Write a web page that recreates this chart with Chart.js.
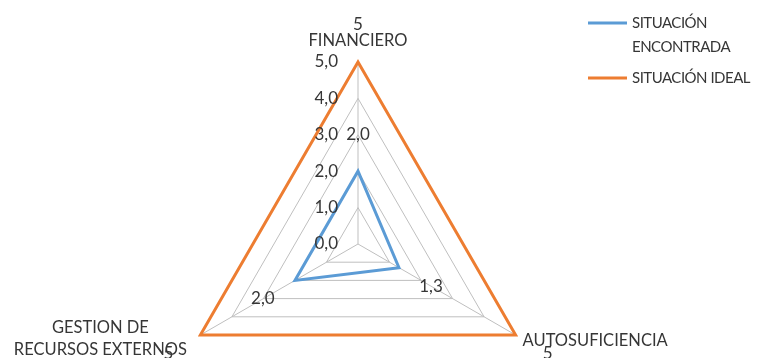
<!DOCTYPE html>
<html>
<head>
<meta charset="utf-8">
<script src="https://cdn.jsdelivr.net/npm/chart.js@4/dist/chart.umd.min.js"></script>
<style>
  html, body { margin:0; padding:0; background:#fff; overflow:hidden; }
  canvas { display:block; }
</style>
</head>
<body>
<canvas id="radarChart" width="775" height="358"></canvas>
<script>
// ===== Data =====
const axisLabels = [["FINANCIERO"], ["AUTOSUFICIENCIA"], ["GESTION DE", "RECURSOS EXTERNOS"]];
const seriesNames = [["SITUACIÓN", "ENCONTRADA"], ["SITUACIÓN IDEAL"]];
const encontrada = [2.0, 1.3, 2.0];
const ideal = [5, 5, 5];
const tickValues = [0, 1, 2, 3, 4, 5];

// ===== Styles =====
const FONT = "Lato, 'Open Sans', sans-serif";
const TEXT = "#363636";
const BLUE = "#5B9BD5";
const ORANGE = "#ED7D31";

const fmtOne = v => v.toFixed(1).replace(".", ",");

// ===== Text plugin: ticks, data labels, axis names, legend =====
const textPlugin = {
  id: "textPlugin",
  afterDatasetsDraw(chart) {
    const ctx = chart.ctx;
    const r = chart.scales.r;
    ctx.save();
    ctx.fillStyle = TEXT;

    // tick labels
    ctx.font = "17px " + FONT;
    ctx.textAlign = "right";
    ctx.textBaseline = "middle";
    tickValues.forEach(v => {
      const y = r.yCenter - r.getDistanceFromCenterForValue(v);
      ctx.fillText(fmtOne(v), r.xCenter - 20, y);
    });

    // data labels
    ctx.textAlign = "center";
    chart.data.datasets.forEach((ds, di) => {
      ds.data.forEach((v, i) => {
        const p = r.getPointPosition(i, r.getDistanceFromCenterForValue(v) + 37);
        ctx.fillText(di === 0 ? fmtOne(v) : String(v), p.x, p.y);
      });
    });

    // axis names
    ctx.font = "16.5px " + FONT;
    chart.data.labels.forEach((lab, i) => {
      const p = r.getPointPosition(i, r.getDistanceFromCenterForValue(r.max));
      if (i === 0) {
        ctx.textAlign = "center";
        ctx.fillText(lab[0], p.x, p.y - 21);
      } else if (i === 1) {
        ctx.textAlign = "left";
        ctx.fillText(lab[0], p.x + 7, p.y + 6);
      } else {
        ctx.textAlign = "center";
        lab.forEach((t, k) => ctx.fillText(t, p.x - 100, p.y - 7 + k * 22));
      }
    });

    // legend
    ctx.textAlign = "left";
    ctx.font = "15px " + FONT;
    ctx.letterSpacing = "-0.5px";
    let y = 23;
    chart.data.datasets.forEach((ds, di) => {
      ctx.strokeStyle = ds.borderColor;
      ctx.lineWidth = 3;
      ctx.beginPath();
      ctx.moveTo(588, y);
      ctx.lineTo(627, y);
      ctx.stroke();
      seriesNames[di].forEach((t, k) => ctx.fillText(t, 632, y + k * 24));
      y += seriesNames[di].length * 24 + 7;
    });
    ctx.restore();
  }
};

// ===== Chart =====
const ctx = document.getElementById("radarChart").getContext("2d");
new Chart(ctx, {
  type: "radar",
  data: {
    labels: axisLabels,
    datasets: [
      { label: "SITUACIÓN ENCONTRADA", data: encontrada, borderColor: BLUE, borderWidth: 3, fill: false, pointRadius: 0, clip: false },
      { label: "SITUACIÓN IDEAL", data: ideal, borderColor: ORANGE, borderWidth: 3, fill: false, pointRadius: 0, clip: false }
    ]
  },
  options: {
    responsive: false,
    animation: false,
    elements: { line: { tension: 0, borderJoinStyle: "miter" } },
    plugins: { legend: { display: false }, tooltip: { enabled: false } },
    scales: {
      r: {
        min: 0,
        max: 5,
        ticks: { stepSize: 1, display: false },
        grid: { color: "#bfbfbf", lineWidth: 1 },
        angleLines: { color: "#bfbfbf", lineWidth: 1 },
        pointLabels: { display: false },
        afterFit(scale) {
          scale.xCenter = 358;
          scale.yCenter = 244;
          scale.drawingArea = 182;
        }
      }
    }
  },
  plugins: [textPlugin]
});
</script>
</body>
</html>
